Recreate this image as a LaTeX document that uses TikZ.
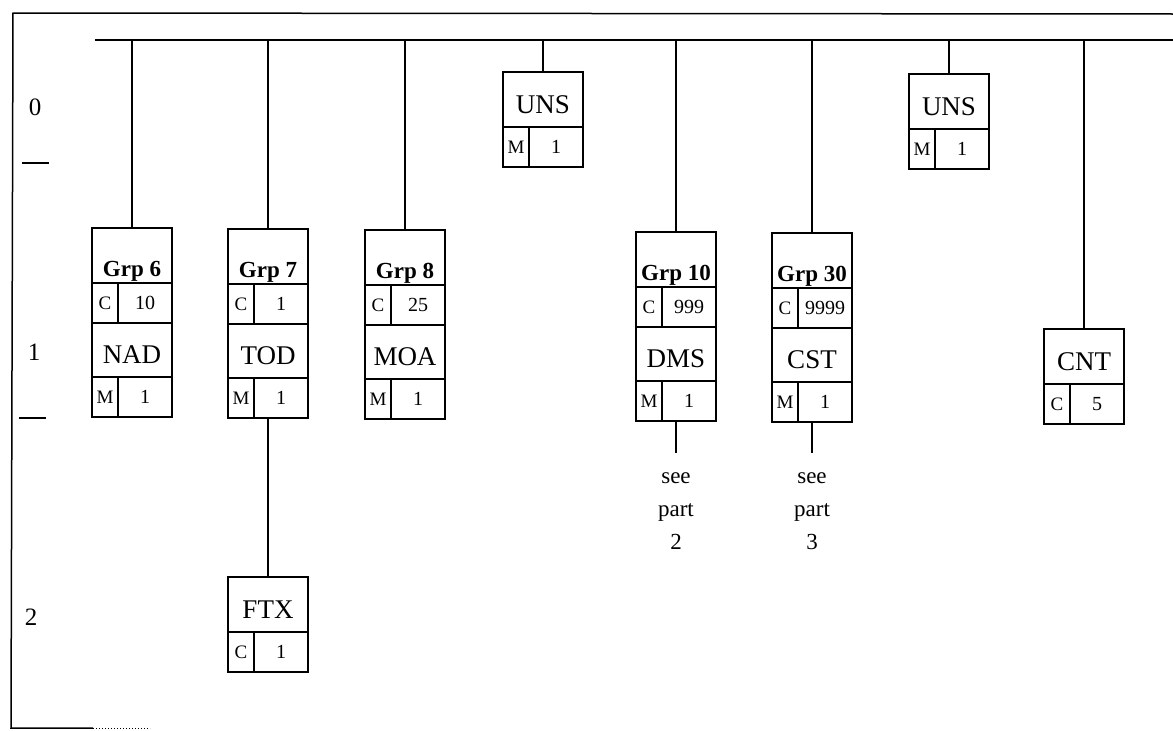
\documentclass[tikz,border=0pt]{standalone}
\usepackage{fontspec}
\setmainfont{Liberation Serif}
\usetikzlibrary{calc}
\tikzset{
  ln/.style={line width=1.5pt},
  cell/.style={draw, line width=1.6pt, inner sep=0pt, outer sep=0pt, anchor=north west},
  hdr/.style={cell, minimum width=80pt, minimum height=55pt, text height=42pt, text depth=0pt,
    font=\bfseries\fontsize{23}{23}\selectfont},
  nm/.style={cell, minimum width=80pt, minimum height=54pt, text height=27pt, text depth=0pt,
    font=\fontsize{27}{27}\selectfont},
  key/.style={cell, minimum width=26pt, minimum height=40pt, text height=13pt, text depth=0pt,
    font=\fontsize{19}{19}\selectfont},
  val/.style={cell, minimum width=54pt, minimum height=40pt, text height=13pt, text depth=0pt,
    font=\fontsize{20}{20}\selectfont},
  lvl/.style={inner sep=0pt, font=\fontsize{25}{25}\selectfont},
  seetxt/.style={inner sep=0pt, anchor=north, align=center, font=\fontsize{23}{33}\selectfont},
}
\newcommand\GrpBox[7]{%
  \node[hdr] (#1h) at (#2,#3) {#4};
  \node[key] (#1c) at (#1h.south west) {C};
  \node[val] (#1v) at (#1c.north east) {#5};
  \node[nm]  (#1n) at (#1c.south west) {#6};
  \node[key] (#1m) at (#1n.south west) {M};
  \node[val] (#1o) at (#1m.north east) {#7};
}
\newcommand\RecBox[6]{%
  \node[nm, minimum height=55pt] (#1n) at (#2,#3) {#4};
  \node[key] (#1k) at (#1n.south west) {#5};
  \node[val] (#1v) at (#1k.north east) {#6};
}
\begin{document}
\begin{tikzpicture}[x=1pt,y=-1pt]
\useasboundingbox (0,0) rectangle (1173,731);
% frame
\draw[ln] (1173,14) -- (13,13) -- (11,728) -- (93,728);
\draw[line width=1pt, dotted] (93,728) -- (150,728);
% level labels
\node[lvl] (l0) at (35,107) {0};
\node[lvl] (l1) at (34,352) {1};
\node[lvl] (l2) at (31,617) {2};
\draw[line width=1.2pt] (22,163) -- (49,163);
\draw[line width=1.2pt] (19,418) -- (46,418);
% bus
\coordinate (bus0) at (95,40);
\coordinate (bus1) at (1173,40);
\draw[ln] (bus0) -- (bus1);
% boxes
\GrpBox{g6}{92}{228}{Grp 6}{10}{NAD}{1}
\GrpBox{g7}{228}{229}{Grp 7}{1}{TOD}{1}
\GrpBox{g8}{365}{230}{Grp 8}{25}{MOA}{1}
\GrpBox{g10}{636}{232}{Grp 10}{999}{DMS}{1}
\GrpBox{g30}{772}{233}{Grp 30}{9999}{CST}{1}
\RecBox{u1}{503}{72}{UNS}{M}{1}
\RecBox{u2}{909}{74}{UNS}{M}{1}
\RecBox{cnt}{1044}{329}{CNT}{C}{5}
\RecBox{ftx}{228}{577}{FTX}{C}{1}
% see part texts
\node[seetxt] (s2) at (676,472) {see\\part\\2};
\node[seetxt] (s3) at (812,472) {see\\part\\3};
% connectors
\foreach \n in {g6h,g7h,g8h,g10h,g30h,u1n,u2n,cntn}{
  \draw[ln] (\n.north) -- (\n.north |- bus0);
}
\draw[ln] (g7h.north |- g7o.south) -- (ftxn.north);
\draw[ln, shorten >=19pt] (g10h.north |- g10o.south) -- (s2.north);
\draw[ln, shorten >=19pt] (g30h.north |- g30o.south) -- (s3.north);
\end{tikzpicture}
\end{document}
